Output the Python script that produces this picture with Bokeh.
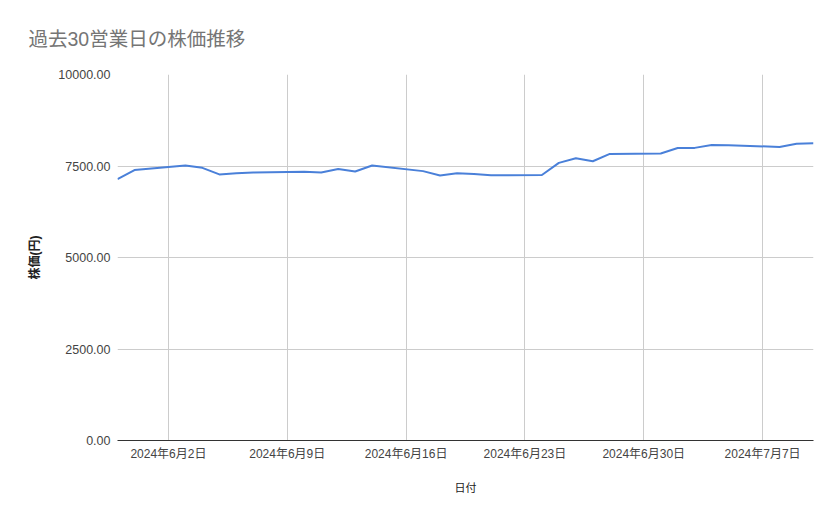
from datetime import datetime

from bokeh.plotting import figure
from bokeh.models import FixedTicker, NumeralTickFormatter, Range1d
from bokeh.embed import file_html
from bokeh.resources import INLINE

# 30 business days (weekdays) and closing prices
dates = [
    "2024-05-30", "2024-05-31",
    "2024-06-03", "2024-06-04", "2024-06-05", "2024-06-06", "2024-06-07",
    "2024-06-10", "2024-06-11", "2024-06-12", "2024-06-13", "2024-06-14",
    "2024-06-17", "2024-06-18", "2024-06-19", "2024-06-20", "2024-06-21",
    "2024-06-24", "2024-06-25", "2024-06-26", "2024-06-27", "2024-06-28",
    "2024-07-01", "2024-07-02", "2024-07-03", "2024-07-04", "2024-07-05",
    "2024-07-08", "2024-07-09", "2024-07-10",
]
prices = [
    7140, 7390,
    7515, 7450, 7270, 7300, 7320,
    7345, 7320, 7420, 7350, 7515,
    7360, 7240, 7300, 7280, 7245,
    7255, 7585, 7710, 7630, 7830,
    7840, 7990, 7995, 8075, 8070,
    8020, 8110, 8120,
]

tick_dates = ["2024-06-02", "2024-06-09", "2024-06-16", "2024-06-23", "2024-06-30", "2024-07-07"]
tick_labels = ["2024年6月2日", "2024年6月9日", "2024年6月16日", "2024年6月23日", "2024年6月30日", "2024年7月7日"]
y_ticks = [0, 2500, 5000, 7500, 10000]

FONT = "'Liberation Sans', 'Noto Sans CJK JP', sans-serif"


def ms(s):
    return datetime.strptime(s, "%Y-%m-%d").timestamp() * 1000


x = [ms(d) for d in dates]
tick_ms = [ms(d) for d in tick_dates]

p = figure(width=839, height=519, x_axis_type="datetime",
           output_backend="svg", toolbar_location=None,
           x_range=Range1d(x[0], x[-1]), y_range=Range1d(0, 10000),
           min_border_left=117, min_border_right=26,
           min_border_top=73, min_border_bottom=79)

p.title.text = "過去30営業日の株価推移"
p.title.text_font = FONT
p.title.text_font_size = "19.5px"
p.title.text_font_style = "normal"
p.title.text_color = "#757575"
p.title.offset = -89
p.title.standoff = 50

p.line(x, prices, line_color="#4a80d9", line_width=2)

p.outline_line_color = None
p.background_fill_color = "white"

# x axis
p.xaxis.ticker = FixedTicker(ticks=tick_ms)
p.xaxis.major_label_overrides = {t: lab for t, lab in zip(tick_ms, tick_labels)}
p.xaxis.axis_label = "日付"
p.xaxis.axis_label_text_font = FONT
p.xaxis.axis_label_text_font_size = "11px"
p.xaxis.axis_label_text_font_style = "normal"
p.xaxis.axis_label_text_color = "#222222"
p.xaxis.axis_label_standoff = 18
p.xaxis.major_label_text_font = FONT
p.xaxis.major_label_text_font_size = "12px"
p.xaxis.major_label_text_color = "#444444"
p.xaxis.major_label_standoff = 6
p.xaxis.axis_line_color = "#333333"
p.xaxis.major_tick_line_color = None
p.xaxis.major_tick_out = 0
p.xaxis.minor_tick_line_color = None
p.xaxis.minor_tick_out = 0

# y axis
p.yaxis.ticker = FixedTicker(ticks=y_ticks)
p.yaxis.formatter = NumeralTickFormatter(format="0.00")
p.yaxis.axis_label = "株価(円)"
p.yaxis.axis_label_text_font = FONT
p.yaxis.axis_label_text_font_size = "12px"
p.yaxis.axis_label_text_font_style = "bold"
p.yaxis.axis_label_text_color = "#222222"
p.yaxis.axis_label_standoff = 13
p.yaxis.major_label_text_font = FONT
p.yaxis.major_label_text_font_size = "12.5px"
p.yaxis.major_label_text_color = "#444444"
p.yaxis.major_label_standoff = 7
p.yaxis.axis_line_color = None
p.yaxis.major_tick_line_color = None
p.yaxis.major_tick_out = 0
p.yaxis.minor_tick_line_color = None
p.yaxis.minor_tick_out = 0

p.xgrid.grid_line_color = "#cccccc"
p.ygrid.grid_line_color = "#cccccc"

open("out.html", "w").write(file_html(p, INLINE))
